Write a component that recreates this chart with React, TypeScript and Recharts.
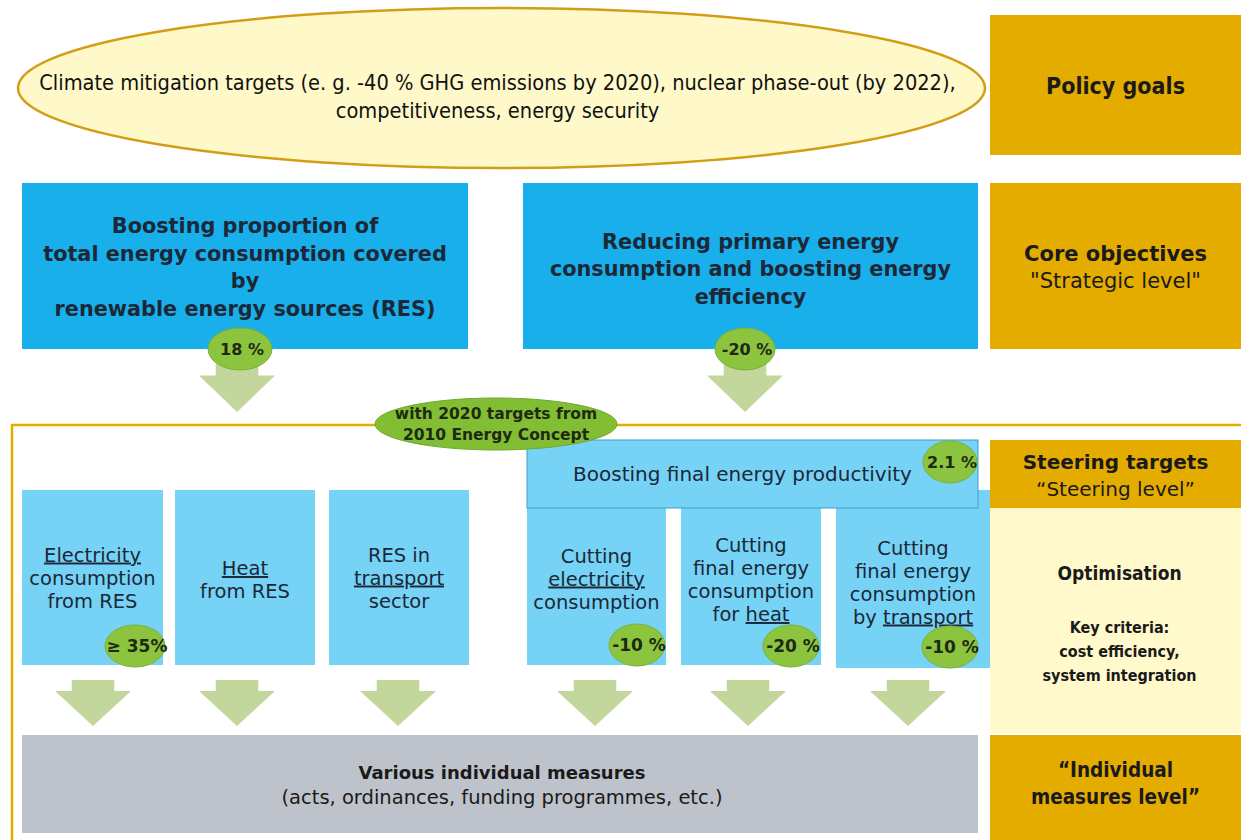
import React from 'react';
import { ComposedChart, XAxis, YAxis, ReferenceArea } from 'recharts';

const W = 1241;
const H = 840;

// ---- content ----
const GOALS = [
  'Climate mitigation targets (e. g. -40 %  GHG emissions by 2020), nuclear phase-out (by 2022),',
  'competitiveness, energy security',
];
const LEVELS = [
  ['Policy goals'],
  ['Core objectives', '"Strategic level"'],
  ['Steering targets', '“Steering level”'],
  ['“Individual', 'measures level”'],
];
const CORE = [
  ['Boosting proportion of', 'total energy consumption covered', 'by', 'renewable energy sources (RES)'],
  ['Reducing primary energy', 'consumption and boosting energy', 'efficiency'],
];
const CORE_TARGETS = ['18 %', '-20 %'];
const CONCEPT = ['with 2020 targets from', '2010 Energy Concept'];
const PRODUCTIVITY = 'Boosting final energy productivity';
const PRODUCTIVITY_TARGET = '2.1 %';
// words between underscores are underlined
const RES_SECTORS = [
  ['_Electricity_', 'consumption', 'from RES'],
  ['_Heat_', 'from RES'],
  ['RES in', '_transport_', 'sector'],
];
const RES_TARGETS = ['≥ 35%'];
const EFF_SECTORS = [
  ['Cutting', '_electricity_', 'consumption'],
  ['Cutting', 'final energy', 'consumption', 'for _heat_'],
  ['Cutting', 'final energy', 'consumption', 'by _transport_'],
];
const EFF_TARGETS = ['-10 %', '-20 %', '-10 %'];
const OPTIMISATION = 'Optimisation';
const CRITERIA = ['Key criteria:', 'cost efficiency,', 'system integration'];
const MEASURES = ['Various individual measures', '(acts, ordinances, funding programmes, etc.)'];

// ---- layout in diagram units (x 0..1241, y 0..840 from the top) ----
const GOALS_OVAL = { x1: 18, x2: 985, y1: 8, y2: 168 };
const LEVEL_BOXES = [
  { x1: 990, x2: 1241, y1: 15, y2: 155 },
  { x1: 990, x2: 1241, y1: 183, y2: 349 },
  { x1: 990, x2: 1241, y1: 440, y2: 508 },
  { x1: 990, x2: 1241, y1: 735, y2: 840 },
];
const OPT_AREA = { x1: 990, x2: 1241, y1: 508, y2: 733 };
const CORE_BOXES = [
  { x1: 22, x2: 468, y1: 183, y2: 349 },
  { x1: 523, x2: 978, y1: 183, y2: 349 },
];
const CORE_BADGES = [
  { cx: 240, cy: 349, rx: 32, ry: 21 },
  { cx: 745, cy: 349, rx: 30, ry: 21 },
];
const CORE_ARROWS = [237, 745];
const FRAME = { x1: 12, x2: 1241, y1: 425, y2: 840 };
const CONCEPT_OVAL = { cx: 496, cy: 424, rx: 121, ry: 26 };
const PROD_BOX = { x1: 527, x2: 978, y1: 440, y2: 508 };
const PROD_BADGE = { cx: 950, cy: 462, rx: 27, ry: 21 };
const RES_BOXES = [
  { x1: 22, x2: 163, y1: 490, y2: 665, dy: 0 },
  { x1: 175, x2: 315, y1: 490, y2: 665, dy: 2 },
  { x1: 329, x2: 469, y1: 490, y2: 665, dy: 0 },
];
const RES_BADGES = [{ cx: 135, cy: 646, rx: 30, ry: 21 }];
const EFF_BOXES = [
  { x1: 527, x2: 666, y1: 508, y2: 665, dy: -8 },
  { x1: 681, x2: 821, y1: 508, y2: 665, dy: -7 },
  { x1: 836, x2: 990, y1: 490, y2: 668, dy: 3 },
];
const EFF_BADGES = [
  { cx: 637, cy: 645, rx: 28, ry: 21 },
  { cx: 791, cy: 646, rx: 28, ry: 21 },
  { cx: 950, cy: 647, rx: 28, ry: 21 },
];
const LOWER_ARROWS = [93, 237, 398, 595, 748, 908];
const MEASURES_BOX = { x1: 22, x2: 978, y1: 735, y2: 833 };

const GOLD = '#E5AC00';
const BLUE = '#19AFEB';
const LIGHT = '#76D3F6';
const BADGE = '#8CC43F';
const ARROW = '#C3D69B';
const PALE = '#FFF9CC';
const GREY = '#BEC3CB';
const INK = '#1B2838';
const SANS = '"DejaVu Sans", sans-serif';
const COND = '"DejaVu Sans Condensed", "DejaVu Sans", sans-serif';

const withUnderline = (line: string) =>
  line.split('_').map((part, i) =>
    i % 2 === 1 ? (
      <tspan key={i} style={{ textDecoration: 'underline' }}>{part}</tspan>
    ) : (
      <tspan key={i}>{part}</tspan>
    )
  );

// stacked, centred lines of text
const Lines = ({ cx, cy, lines, size, lh, family = SANS, weights = [], fill = INK, stretch = 'normal' }: any) => {
  const top = cy - ((lines.length - 1) * lh) / 2;
  return (
    <g>
      {lines.map((ln: string, i: number) => (
        <text
          key={i}
          x={cx}
          y={top + i * lh}
          dy="0.36em"
          textAnchor="middle"
          fontFamily={family}
          fontSize={size}
          fontWeight={weights[i] ?? 'normal'}
          fill={fill}
          style={{ fontStretch: stretch }}
        >
          {withUnderline(ln)}
        </text>
      ))}
    </g>
  );
};

const oval = (o: { cx: number; cy: number; rx: number; ry: number }) => ({
  x1: o.cx - o.rx, x2: o.cx + o.rx, y1: o.cy - o.ry, y2: o.cy + o.ry,
});

const badge = (key: string, o: any, label: string, size = 15) => (
  <ReferenceArea
    key={key}
    {...oval(o)}
    ifOverflow="visible"
    shape={(p: any) => (
      <g>
        <ellipse cx={p.x + p.width / 2} cy={p.y + p.height / 2} rx={p.width / 2} ry={p.height / 2} fill={BADGE} stroke="#7BB13A" strokeWidth={1} />
        <Lines cx={p.x + p.width / 2 + 2} cy={p.y + p.height / 2} lines={[label]} size={size} lh={size} weights={['bold']} fill="#1E2A12" />
      </g>
    )}
  />
);

const arrow = (key: string, cx: number, y1: number, y2: number, w = 76) => (
  <ReferenceArea
    key={key}
    x1={cx - w / 2}
    x2={cx + w / 2}
    y1={y1}
    y2={y2}
    ifOverflow="visible"
    shape={(p: any) => {
      const mx = p.x + p.width / 2;
      const sw = p.width * 0.28;
      const sh = p.height * 0.24;
      const pts = [
        [mx - sw, p.y], [mx + sw, p.y], [mx + sw, p.y + sh], [p.x + p.width, p.y + sh],
        [mx, p.y + p.height], [p.x, p.y + sh], [mx - sw, p.y + sh],
      ].map((q) => q.join(',')).join(' ');
      return <polygon points={pts} fill={ARROW} />;
    }}
  />
);

const box = (key: string, r: any, fill: string, content: (p: any) => React.ReactNode, stroke = 'none') => (
  <ReferenceArea
    key={key}
    x1={r.x1}
    x2={r.x2}
    y1={r.y1}
    y2={r.y2}
    ifOverflow="visible"
    shape={(p: any) => (
      <g>
        <rect x={p.x} y={p.y} width={p.width} height={p.height} fill={fill} stroke={stroke} strokeWidth={1} />
        {content(p)}
      </g>
    )}
  />
);

const mid = (p: any) => ({ cx: p.x + p.width / 2, cy: p.y + p.height / 2 });

export default function App() {
  return (
    <div style={{ position: 'absolute', left: 0, top: 0, width: W, height: H, background: '#fff' }}>
      <ComposedChart width={W} height={H} margin={{ top: 0, right: 0, bottom: 0, left: 0 }}>
        <XAxis type="number" dataKey="x" domain={[0, W]} hide allowDataOverflow />
        <YAxis type="number" dataKey="y" domain={[0, H]} reversed hide allowDataOverflow />

        {/* frame around the steering level */}
        <ReferenceArea
          {...FRAME}
          ifOverflow="visible"
          shape={(p: any) => (
            <path d={`M${p.x + p.width},${p.y} L${p.x},${p.y} L${p.x},${p.y + p.height}`} fill="none" stroke={GOLD} strokeWidth={2.5} />
          )}
        />

        {/* policy goals oval */}
        <ReferenceArea
          {...GOALS_OVAL}
          ifOverflow="visible"
          shape={(p: any) => (
            <g>
              <ellipse cx={p.x + p.width / 2} cy={p.y + p.height / 2} rx={p.width / 2} ry={p.height / 2} fill="#FFF9C9" stroke="#D39E17" strokeWidth={2.5} />
              <Lines cx={p.x + p.width / 2 - 4} cy={p.y + p.height / 2 + 8} lines={GOALS} size={21.6} lh={28} family={COND} stretch="condensed" fill="#111" />
            </g>
          )}
        />

        {/* level labels on the right */}
        {LEVEL_BOXES.map((r, i) =>
          box(`lvl${i}`, r, GOLD, (p) => (
            <Lines
              {...mid(p)}
              cy={mid(p).cy + (i === 3 ? -4 : 1)}
              lines={LEVELS[i]}
              size={i === 0 ? 23 : i === 3 ? 20.5 : i === 1 ? 21 : 20}
              lh={27}
              family={i === 0 || i === 3 ? COND : SANS}
              stretch={i === 0 || i === 3 ? 'condensed' : 'normal'}
              weights={i === 3 ? ['bold', 'bold'] : ['bold', 'normal']}
              fill="#1A1A1A"
            />
          ))
        )}
        {box('opt', OPT_AREA, PALE, (p) => (
          <g>
            <Lines cx={mid(p).cx + 4} cy={p.y + 65} lines={[OPTIMISATION]} size={19} lh={20} weights={['bold']} family={COND} stretch="condensed" fill="#1A1A1A" />
            <Lines cx={mid(p).cx + 4} cy={p.y + 143} lines={CRITERIA} size={16} lh={24} weights={['bold', 'bold', 'bold']} family={COND} stretch="condensed" fill="#1A1A1A" />
          </g>
        ))}

        {/* core objectives */}
        {CORE_BOXES.map((r, i) =>
          box(`core${i}`, r, BLUE, (p) => (
            <Lines {...mid(p)} cy={mid(p).cy + (i === 1 ? 3 : 1)} lines={CORE[i]} size={20.8} lh={27.5} weights={['bold', 'bold', 'bold', 'bold']} />
          ))
        )}
        {CORE_ARROWS.map((cx, i) => arrow(`ca${i}`, cx, 364, 412))}
        {CORE_BADGES.map((o, i) => badge(`cb${i}`, o, CORE_TARGETS[i], 16))}

        {/* steering targets */}
        {EFF_BOXES.map((r, i) =>
          box(`eff${i}`, r, LIGHT, (p) => <Lines {...mid(p)} cy={mid(p).cy + r.dy} lines={EFF_SECTORS[i]} size={19.5} lh={23} />)
        )}
        {box('prod', PROD_BOX, LIGHT, (p) => <Lines cx={mid(p).cx - 10} cy={mid(p).cy} lines={[PRODUCTIVITY]} size={20} lh={20} />, '#3F9DC8')}
        {RES_BOXES.map((r, i) =>
          box(`res${i}`, r, LIGHT, (p) => <Lines {...mid(p)} cy={mid(p).cy + r.dy} lines={RES_SECTORS[i]} size={19.5} lh={23} />)
        )}
        <ReferenceArea
          {...oval(CONCEPT_OVAL)}
          ifOverflow="visible"
          shape={(p: any) => (
            <g>
              <ellipse cx={p.x + p.width / 2} cy={p.y + p.height / 2} rx={p.width / 2} ry={p.height / 2} fill="#82BE33" stroke="#6FA82A" strokeWidth={1} />
              <Lines {...mid(p)} lines={CONCEPT} size={15.5} lh={21} weights={['bold', 'bold']} fill="#1E2A12" />
            </g>
          )}
        />
        {badge('pb', PROD_BADGE, PRODUCTIVITY_TARGET, 16)}
        {RES_BADGES.map((o, i) => badge(`rb${i}`, o, RES_TARGETS[i], 17))}
        {EFF_BADGES.map((o, i) => badge(`eb${i}`, o, EFF_TARGETS[i], 17))}

        {/* individual measures */}
        {LOWER_ARROWS.map((cx, i) => arrow(`la${i}`, cx, 680, 726))}
        {box('meas', MEASURES_BOX, GREY, (p) => (
          <g>
            <Lines cx={mid(p).cx + 2} cy={p.y + 38} lines={[MEASURES[0]]} size={18} lh={24} weights={['bold']} fill="#1A1A1A" />
            <Lines cx={mid(p).cx + 2} cy={p.y + 62} lines={[MEASURES[1]]} size={19.5} lh={24} fill="#1A1A1A" />
          </g>
        ))}
      </ComposedChart>
    </div>
  );
}
